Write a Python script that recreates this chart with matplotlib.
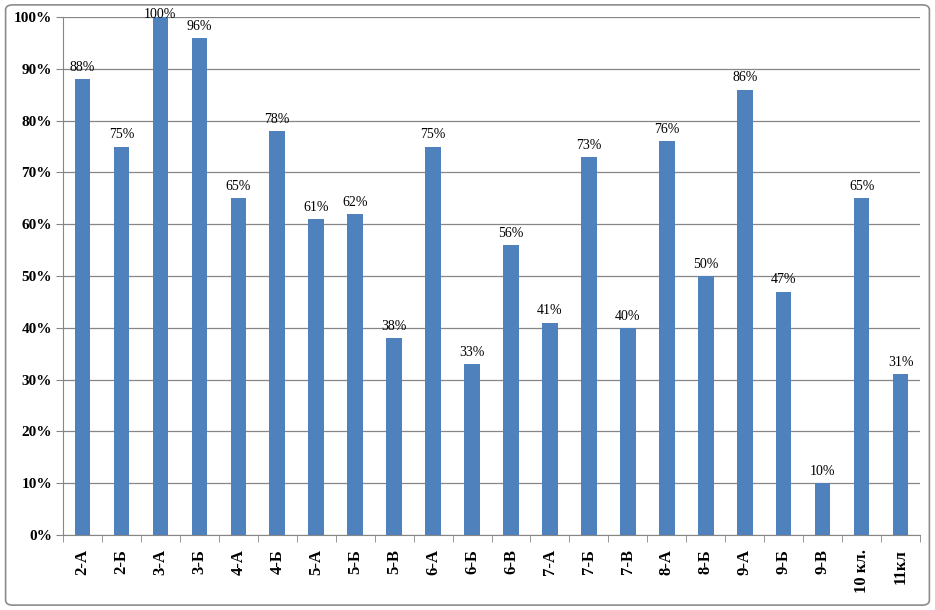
import matplotlib.pyplot as plt
from matplotlib.patches import FancyBboxPatch
import numpy as np

classes = ["2-А", "2-Б", "3-А", "3-Б", "4-А", "4-Б", "5-А", "5-Б", "5-В", "6-А", "6-Б",
           "6-В", "7-А", "7-Б", "7-В", "8-А", "8-Б", "9-А", "9-Б", "9-В", "10 кл.", "11кл"]
values = [88, 75, 100, 96, 65, 78, 61, 62, 38, 75, 33, 56, 41, 73, 40, 76, 50, 86, 47, 10, 65, 31]

plt.rcParams['font.family'] = ['Liberation Serif', 'DejaVu Serif']

fig = plt.figure(figsize=(9.35, 6.1), dpi=100)
ax = fig.add_axes([0.0674, 0.123, 0.9166, 0.849])

# outer frame of the chart
frame = FancyBboxPatch((0.006, 0.008), 0.988, 0.984, boxstyle="round,pad=0,rounding_size=0.008",
                       transform=fig.transFigure, fill=False, edgecolor="#8c8c8c", linewidth=1.2)
fig.patches.append(frame)

x = np.arange(len(classes))
ax.bar(x, values, width=0.4, color="#4F81BD", zorder=3)
for xi, v in zip(x, values):
    # labels are kept inside the plot area, like excel does
    ax.text(xi, min(v + 1.0, 99.2), f"{v}%", ha="center", va="bottom", fontsize=10, zorder=4)

ax.set_xlim(-0.5, len(classes) - 0.5)
ax.set_ylim(0, 100)
ax.set_yticks(np.arange(0, 101, 10))
ax.set_yticklabels([f"{t}%" for t in range(0, 101, 10)], fontsize=11, fontweight="bold")
ax.yaxis.grid(True, color="#868686", linewidth=0.9, zorder=0)

ax.set_xticks(x)
ax.set_xticklabels(classes, rotation=90, fontsize=12, fontweight="bold")
ax.set_xticks(np.arange(-0.5, len(classes), 1), minor=True)
ax.tick_params(axis="x", which="major", length=0, pad=10)
ax.tick_params(axis="x", which="minor", length=5, color="#868686")
ax.tick_params(axis="y", length=5, color="#868686", pad=3)

for s in ["top", "right"]:
    ax.spines[s].set_visible(False)
ax.spines["left"].set_color("#868686")
ax.spines["bottom"].set_color("#868686")

fig.savefig("out.png", dpi=100)
